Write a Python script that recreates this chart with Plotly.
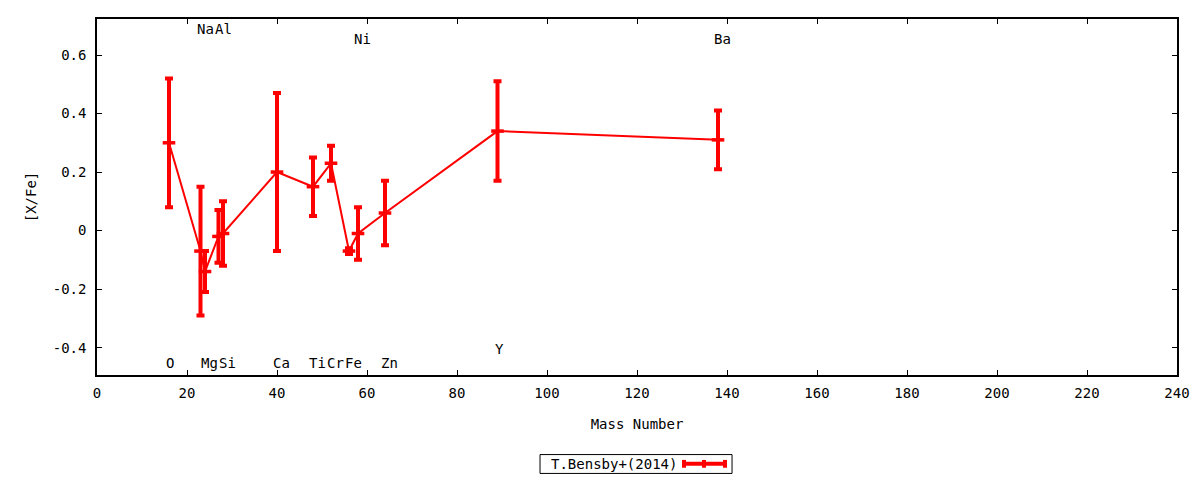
import plotly.graph_objects as go

# Data
elements = ["O", "Na", "Mg", "Al", "Si", "Ca", "Ti", "Cr", "Fe", "Ni", "Zn", "Y", "Ba"]
mass_number = [16, 23, 24, 27, 28, 40, 48, 52, 56, 58, 64, 89, 138]
x_fe = [0.30, -0.07, -0.14, -0.02, -0.01, 0.20, 0.15, 0.23, -0.07, -0.01, 0.06, 0.34, 0.31]
x_fe_err = [0.22, 0.22, 0.07, 0.09, 0.11, 0.27, 0.10, 0.06, 0.01, 0.09, 0.11, 0.17, 0.10]
series_name = "T.Bensby+(2014)"

x_ticks = [0, 20, 40, 60, 80, 100, 120, 140, 160, 180, 200, 220, 240]
y_ticks = [-0.4, -0.2, 0, 0.2, 0.4, 0.6]

FONT = "DejaVu Sans Mono"
RED = "#ff0000"

fig = go.Figure()
fig.add_trace(go.Scatter(
    x=mass_number, y=x_fe, mode="lines+markers", name=series_name,
    line=dict(color=RED, width=2),
    marker=dict(symbol="line-ew", size=9, line=dict(color=RED, width=3.5)),
    error_y=dict(type="data", array=x_fe_err, visible=True, color=RED,
                 thickness=4, width=4),
    showlegend=False,
))

# element labels: row placement
label_row = {"Na": 0.69, "Al": 0.69, "Ni": 0.656, "Ba": 0.656, "Y": -0.404}
label_shift = {"O": 1, "Y": 2}
annotations = []
for el, a in zip(elements, mass_number):
    annotations.append(dict(
        x=a, y=label_row.get(el, -0.452), xref="x", yref="y", text=el,
        showarrow=False, xshift=label_shift.get(el, 4.5),
        font=dict(family=FONT, size=14, color="black"),
    ))

# custom legend (text left, sample right) in a box
annotations.append(dict(
    x=0.4965, y=-0.2495, xref="paper", yref="paper", text=series_name,
    showarrow=False, xanchor="center", yanchor="middle", xshift=-19,
    font=dict(family=FONT, size=14, color="black"),
))

shapes = [
    dict(type="rect", xref="paper", yref="paper", x0=0.4102, x1=0.5880,
         y0=-0.2765, y1=-0.2235, line=dict(color="black", width=1), fillcolor="white",
         layer="below"),
]
lx0, lx1, ly = (684 - 97) / 1080, (725 - 97) / 1080, -0.2495
lxm = (704 - 97) / 1080
shapes.append(dict(type="line", xref="paper", yref="paper", x0=lx0, x1=lx1, y0=ly, y1=ly,
                   line=dict(color=RED, width=4)))
for xx in (lx0, lx1, lxm):
    shapes.append(dict(type="line", xref="paper", yref="paper", x0=xx, x1=xx,
                       y0=ly - 0.011, y1=ly + 0.011, line=dict(color=RED, width=4)))

fig.update_layout(
    width=1200, height=480,
    margin=dict(l=89, r=31, t=9, b=113),
    plot_bgcolor="white", paper_bgcolor="white",
    font=dict(family=FONT, size=14, color="black"),
    annotations=annotations, shapes=shapes,
    xaxis=dict(
        range=[0, 240], tickvals=x_ticks, ticktext=[str(t) for t in x_ticks],
        ticks="inside", ticklen=5, tickcolor="black", mirror="ticks",
        showline=True, linecolor="black", linewidth=1.5, showgrid=False, zeroline=False,
        ticklabelstandoff=4,
        title=dict(text="Mass Number", standoff=20, font=dict(family=FONT, size=14)),
        tickfont=dict(family=FONT, size=14),
    ),
    yaxis=dict(
        range=[-0.4935, 0.723], tickvals=y_ticks,
        ticktext=["-0.4", "-0.2", "0", "0.2", "0.4", "0.6"],
        ticks="inside", ticklen=5, tickcolor="black", mirror="ticks",
        showline=True, linecolor="black", linewidth=1.5, showgrid=False, zeroline=False,
        ticklabelstandoff=6,
        title=dict(text="[X/Fe]", standoff=13, font=dict(family=FONT, size=14)),
        tickfont=dict(family=FONT, size=14),
    ),
)

fig.write_html("out.html")
